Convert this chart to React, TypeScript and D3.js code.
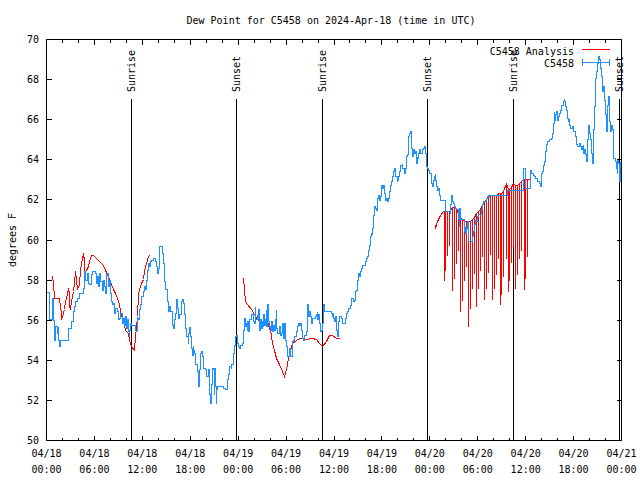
import React from "react";
import * as d3 from "d3";

const TITLE = "Dew Point for C5458 on 2024-Apr-18 (time in UTC)";
const Y_LABEL = "degrees F";
const START = Date.UTC(2024, 3, 18, 0, 0);
const END = Date.UTC(2024, 3, 21, 0, 0);
const Y_DOMAIN: [number, number] = [50, 70];

// [hours since 04/18 00:00 UTC, dew point °F]
const observed: [number, number][] = [
  [0.05,57.37],[0.40,56.01],[0.73,57.06],[0.85,56.0],[0.98,55.26],[1.06,55.01],[1.15,55.68],[1.36,55.35],[1.48,55.68],[1.56,55.0],[1.69,54.68],[1.77,55.0],[2.81,55.6],[3.15,55.93],[3.35,56.43],[3.56,56.68],[3.69,56.93],[3.85,57.1],[4.19,57.34],[4.6,57.59],[4.73,58.42],[4.9,58.0],[5.1,58.34],[5.23,57.84],[5.44,57.76],[5.65,58.26],[5.77,58.42],[6.19,58.34],[6.27,57.84],[6.4,58.17],[6.48,57.67],[6.69,58.34],[6.81,57.92],[6.98,57.5],[7.1,58.0],[7.23,57.67],[7.4,57.34],[7.52,58.26],[7.69,58.34],[7.81,57.67],[7.94,58.0],[8.06,57.34],[8.15,56.93],[8.27,56.76],[8.44,56.84],[8.56,56.34],[8.69,56.59],[8.85,56.43],[8.98,56.01],[9.19,56.09],[9.31,56.34],[9.48,55.84],[9.6,56.09],[9.73,55.76],[9.9,56.18],[10.02,55.6],[10.1,56.01],[10.23,55.43],[10.35,55.18],[10.44,55.51],[10.52,55.84],[10.65,55.76],[11.19,55.51],[11.35,56.09],[11.48,56.01],[11.69,56.51],[11.81,56.76],[11.9,57.17],[12.1,57.42],[12.23,57.67],[12.44,57.51],[12.52,58.0],[12.6,58.5],[12.73,58.84],[12.94,58.67],[13.02,58.92],[13.15,59.0],[13.35,59.09],[13.65,58.92],[13.77,58.67],[13.9,58.34],[13.98,58.59],[14.1,59.0],[14.19,59.67],[14.52,59.34],[14.69,58.84],[14.81,57.92],[14.94,57.51],[15.1,56.93],[15.23,56.43],[15.44,56.68],[15.56,56.43],[15.73,55.76],[15.85,55.6],[15.98,56.01],[16.15,56.34],[16.27,57.01],[16.4,56.59],[16.48,56.09],[16.69,56.26],[16.9,56.93],[17.02,57.01],[17.1,56.84],[17.23,56.26],[17.35,56.01],[17.44,55.6],[17.56,55.18],[17.73,54.85],[17.81,55.35],
  [17.86,55.51],[17.94,55.64],[18.06,55.18],[18.19,54.6],[18.27,54.26],[18.36,54.76],[18.44,54.51],[18.56,54.35],[18.69,53.77],[18.86,53.43],[18.98,52.68],[19.11,53.52],[19.27,54.35],[19.4,54.43],[19.52,54.18],[19.61,53.6],[19.86,53.52],[20.02,53.18],[20.23,53.52],[20.36,53.18],[20.44,52.27],[20.52,51.85],[20.61,52.77],[20.73,53.6],[20.86,53.52],[20.98,52.27],[21.07,53.6],[21.15,52.68],[21.23,51.85],[21.32,52.52],[21.4,52.68],[22.11,52.6],[22.44,52.52],[22.61,53.02],[22.73,53.27],[22.86,53.52],[22.94,53.68],[23.11,53.6],[23.19,53.77],[23.36,54.35],[23.48,54.76],[23.61,55.26],[23.69,55.18],[23.77,55.26],[23.9,54.85],[24.02,54.68],[24.19,54.6],[24.31,54.76],[24.48,54.85],[24.61,55.18],[24.69,55.51],[24.81,56.09],[24.94,55.68],[25.02,55.84],[25.11,55.51],[25.23,55.93],[25.32,55.43],[25.44,56.01],[25.65,56.26],[25.86,55.93],[26.07,55.84],[26.15,56.67],[26.23,56.01],[26.36,56.26],[26.48,56.01],[26.57,56.51],[26.69,55.51],[26.82,56.01],[26.9,55.59],[27.02,55.93],[27.11,55.68],[27.19,56.26],[27.32,55.76],[27.44,56.01],[27.52,56.51],[27.61,55.68],[27.73,56.76],[27.82,55.93],[27.94,55.68],[28.07,55.51],[28.15,55.93],[28.27,55.68],[28.36,55.43],[28.48,55.76],[28.61,55.51],[28.69,56.01],[28.77,56.51],[28.86,55.59],[28.98,55.34],[29.19,55.68],[29.32,55.26],[29.44,55.34],[29.57,55.84],[29.69,55.1],[29.82,55.84],[29.94,55.01],[30.02,54.68],[30.15,54.18],[30.44,54.6],[30.57,54.18],[30.77,54.51],[30.86,54.93],[30.98,55.01],[31.11,55.18],[31.27,55.43],[31.4,55.68],[31.52,55.84],[31.69,55.76],[31.82,55.84],[31.94,55.51],[32.07,55.1],[32.23,55.01],[32.36,55.26],[32.52,55.43],[32.65,56.18],[32.73,56.76],[32.86,56.18],[32.94,56.43],[33.07,56.18],[33.19,55.84],[33.36,56.09],[33.65,56.18],[33.77,56.26],[33.9,56.43],[33.98,56.01],[34.07,56.26],[34.19,55.84],[34.27,55.43],[34.4,55.51],[34.52,55.76],[34.61,55.84],[34.69,56.76],[34.82,56.43],[35.65,56.34],[35.77,56.18],[35.86,56.34],[35.98,56.09],[36.07,55.93],[36.19,56.18],[36.27,55.51],[36.4,55.18],[36.52,55.93],[36.69,56.18],
  [36.9,56.09],[37.02,55.84],[37.44,56.09],[37.52,56.34],[37.73,56.42],[37.86,56.59],[38.02,56.75],[38.15,57.09],[38.48,56.92],[38.61,57.0],[38.69,57.42],[38.77,57.5],[38.9,58.0],[39.02,58.08],[39.11,58.33],[39.19,58.17],[39.32,58.42],[39.48,58.58],[39.61,58.75],[39.94,58.92],[40.11,59.08],[40.23,59.17],[40.36,59.5],[40.44,59.75],[40.57,60.16],[40.65,60.33],[40.77,60.25],[40.86,60.58],[40.94,61.24],[41.07,61.66],[41.19,61.58],[41.27,61.49],[41.4,61.74],[41.48,62.07],[41.61,62.24],[41.69,61.99],[41.77,62.16],[41.9,62.41],[41.98,62.74],[42.11,62.57],[42.23,62.74],[42.36,62.32],[42.44,61.99],[42.61,62.07],[42.73,61.91],[42.86,62.07],[42.94,62.41],[43.07,62.74],[43.19,62.91],[43.36,63.16],[43.44,63.4],[43.57,63.57],[43.65,63.16],[43.9,62.91],[43.98,62.99],[44.07,63.16],[44.19,63.4],[44.32,63.74],[44.52,63.82],[44.61,63.57],[44.82,63.32],[44.94,63.57],[45.02,63.74],[45.11,64.15],[45.23,64.24],[45.36,65.15],[45.44,65.32],[45.57,65.4],[45.65,65.15],[45.73,64.57],[45.86,64.15],[45.98,64.49],[46.07,64.32],[46.19,64.4],[46.27,63.82],[46.4,64.15],[46.48,64.07],[46.61,64.32],[46.69,64.49],
  [46.81,64.32],[47.11,64.49],[47.23,64.57],[47.31,64.65],[47.44,64.32],[47.52,63.91],[47.61,63.66],[47.73,63.57],[47.86,63.49],[48.02,63.33],[48.15,63.08],[48.27,62.83],[48.36,62.66],[48.48,62.99],[48.56,63.16],[48.69,63.33],[48.77,62.99],[48.86,62.66],[48.98,62.49],[49.11,62.58],[49.19,62.24],[49.31,61.99],[49.94,61.58],[50.02,61.41],[50.56,61.33],[50.65,61.75],[50.73,62.24],[50.86,61.91],[50.98,61.83],[51.11,61.66],[51.27,61.58],[51.4,61.5],[51.56,61.0],[51.69,60.67],[51.77,61.58],[51.86,61.0],[52.31,60.42],[52.44,60.67],[52.52,60.33],[52.61,60.58],[52.73,60.91],[52.81,59.92],[53.36,60.17],[53.44,60.42],[53.56,60.75],[53.69,60.91],[53.77,60.99],[53.86,60.91],[53.98,61.16],[54.11,61.25],[54.52,61.5],[54.61,61.75],[54.73,61.91],[55.15,62.08],[55.23,62.16],[55.36,62.24],[57.69,62.49],[59.69,63.57],[59.94,62.58],[60.65,63.49],[60.77,63.33],[60.94,63.24],[61.06,63.16],[61.27,63.08],[61.48,62.91],[61.69,62.83],[61.81,62.66],[61.94,62.91],[62.02,63.33],[62.11,63.41],[62.19,63.74],[62.31,63.91],[62.44,64.16],[62.52,64.41],[62.65,64.74],[62.73,64.9],[62.94,64.99],[63.19,65.07],[63.36,65.32],[63.48,65.82],[63.56,66.4],[63.65,65.98],[63.77,66.24],[63.9,66.4],[64.02,65.98],[64.11,66.15],[64.19,66.32],[64.4,66.48],[64.52,66.73],[64.73,66.9],[64.81,67.07],[64.9,66.9],[65.02,66.65],[65.11,66.48],[65.23,66.07],[65.31,65.9],[65.44,66.07],[65.52,65.73],[65.65,65.57],[65.86,65.65],[65.94,65.4],[66.19,65.24],[66.27,65.15],[66.4,64.74],[66.52,64.65],[66.69,64.82],[66.81,64.65],[66.94,64.49],[67.06,64.65],[67.19,64.74],[67.27,64.32],[67.4,64.49],[67.52,64.24],[67.65,63.91],[67.77,64.99],[67.86,65.73],[68.02,65.32],[68.15,64.99],[68.27,64.32],[68.36,63.82],[68.44,64.32],[68.52,65.49],[68.61,66.65],[68.69,67.48],[68.77,68.06],[68.86,68.4],[68.98,68.81],[69.11,69.14],[69.23,68.98],[69.36,68.56],[69.48,68.15],[69.61,67.4],[69.69,67.65],[69.81,66.98],[69.94,66.65],[70.02,66.24],[70.11,65.4],[70.19,66.24],[70.27,66.73],[70.36,67.15],[70.44,66.4],[70.52,65.9],[70.65,65.4],[70.77,65.73],[70.86,65.49],[70.94,64.99],[71.02,64.07],[71.27,63.91],[71.36,63.57],[71.44,63.33],[71.52,63.99],[71.61,63.82],[71.69,63.33],[71.77,62.91],[71.85,63.9],
];

// analysis, first night/morning
const analysisA: [number, number][] = [
  [0.73,58.17],[0.86,57.84],[0.94,57.09],[1.69,57.09],[1.77,56.68],[1.86,56.34],[1.94,56.01],[2.02,56.18],[2.23,56.51],[2.44,56.93],[2.61,57.26],[2.77,57.59],[2.86,57.26],[2.94,56.68],[3.02,56.59],[3.15,56.93],[3.36,57.42],[3.48,57.84],[3.65,58.42],[3.77,58.01],[3.94,57.51],[4.11,57.76],[4.27,58.5],[4.44,58.84],[4.65,59.34],[4.73,58.92],[4.81,58.34],[5.02,58.5],[5.27,58.67],[5.44,58.92],[5.69,59.25],[5.86,59.25],[6.27,59.09],[6.69,58.92],[7.11,58.75],[7.4,58.5],[7.65,58.26],[7.86,58.01],[8.15,57.76],[8.36,57.51],[8.69,57.34],[8.9,57.09],[9.11,56.76],[9.31,56.43],[9.52,56.09],[9.73,55.76],[9.94,55.51],[10.23,55.35],[10.44,55.01],[10.69,54.68],[10.98,54.51],[11.15,55.18],[11.27,55.6],[11.4,56.18],[11.56,57.26],[11.69,57.51],[11.94,57.84],[12.11,58.01],[12.31,58.5],[12.52,58.84],[12.73,59.17],[12.86,59.25],
];

// analysis, second night/morning
const analysisB: [number, number][] = [
  [24.69,58.09],[24.77,57.51],[24.86,56.92],[25.23,56.76],[25.65,56.51],[26.07,56.26],[26.48,56.01],[26.94,55.84],[27.32,56.01],[27.65,55.93],[27.94,55.59],[28.07,55.51],[28.19,55.26],[28.36,54.85],[28.56,54.51],[28.86,54.1],[29.19,53.77],[29.61,53.43],[29.86,53.18],[30.02,53.52],[30.27,54.1],[30.57,54.51],[30.86,54.85],[31.27,54.98],[31.69,55.1],[32.52,55.05],[33.36,55.1],[33.77,55.05],[34.19,54.85],[34.61,54.68],[35.02,54.93],[35.44,55.26],[35.86,55.26],[36.27,55.1],[36.69,55.1],
];

// analysis, third night: lead-in, then swings [hour, high, low]
const analysisCLead: [number, number][] = [
  [48.69,60.75],[48.77,60.58],[49.0,60.91],[49.3,61.2],[49.7,61.41],
];
const analysisCSwings: [number, number, number][] = [
  [49.81,61.4,58.0],[50.02,61.4,58.5],[50.27,61.4,59.25],[50.52,61.4,59.75],
  [50.86,61.6,57.5],[51.07,61.6,58.1],[51.32,61.5,58.84],[51.56,61.3,59.5],
  [51.9,61.1,56.42],[52.1,61.0,57.0],[52.36,60.9,58.0],[52.6,60.9,58.7],
  [52.86,60.9,55.68],[53.06,60.9,56.6],[53.32,61.0,57.6],[53.56,61.1,58.34],
  [53.9,61.3,56.68],[54.1,61.4,57.6],[54.36,61.5,58.5],[54.6,61.7,59.2],
  [54.9,61.9,57.01],[55.1,62.0,57.6],[55.36,62.1,58.4],[55.6,62.2,59.3],
  [55.86,62.2,57.01],[56.06,62.2,57.6],[56.32,62.2,58.3],[56.56,62.3,59.1],
  [56.82,62.3,56.76],[57.02,62.3,57.3],[57.28,62.4,58.2],[57.56,62.8,59.1],
  [57.82,62.5,57.42],[58.02,62.5,58.0],[58.28,62.6,58.9],[58.52,62.8,59.7],
  [58.77,62.7,57.59],[58.98,62.7,58.3],[59.24,62.8,59.1],[59.48,62.9,59.5],
  [59.81,63.0,57.51],[60.0,63.0,58.1],[60.22,63.0,59.2],
];
const analysisCEnd: [number, number][] = [[60.45, 63.0]];

const sunEvents: { hour: number; label: string }[] = [
  { hour: 10.65, label: "Sunrise" },
  { hour: 23.73, label: "Sunset" },
  { hour: 34.6, label: "Sunrise" },
  { hour: 47.73, label: "Sunset" },
  { hour: 58.48, label: "Sunrise" },
  { hour: 71.69, label: "Sunset" },
];

const SERIES_NAMES = ["C5458 Analysis", "C5458"];
const COLORS = { analysis: "#ff0000", observed: "#1e90ff" };

const FONT = "'DejaVu Sans Mono', 'Liberation Mono', monospace";

export default function App() {
  const W = 640, H = 480;
  const L = 46.5, R = 621.5, T = 39.5, B = 440.5;
  const toDate = (h: number) => new Date(START + h * 3600e3);
  const x = d3.scaleUtc().domain([new Date(START), new Date(END)]).range([L, R]);
  const y = d3.scaleLinear().domain(Y_DOMAIN).range([B, T]);
  const px = (h: number) => Math.round(x(toDate(h)) - 0.5) + 0.5;
  const py = (v: number) => Math.round(y(v) - 0.5) + 0.5;

  const stepLine = d3.line<[number, number]>().x(d => px(d[0])).y(d => py(d[1])).curve(d3.curveStepAfter);
  const line = d3.line<[number, number]>().x(d => px(d[0])).y(d => py(d[1]));

  // each swing: a vertical drop to the low and back up at the same time, then along the top
  const swingPts: [number, number][] = [];
  analysisCLead.forEach(p => swingPts.push(p));
  analysisCSwings.forEach(([h, hi, lo]) => {
    swingPts.push([h, hi]);
    swingPts.push([h, lo]);
    swingPts.push([h, hi]);
  });
  analysisCEnd.forEach(p => swingPts.push(p));

  const majorTicks = x.ticks(d3.utcHour.every(6) as any);
  const minorTicks = x.ticks(d3.utcHour.every(2) as any);
  const yTicks = y.ticks(10);
  const fmtDate = d3.utcFormat("%m/%d");
  const fmtTime = d3.utcFormat("%H:%M");
  const tx = (t: Date) => Math.round(x(t) - 0.5) + 0.5;

  return (
    <svg width={W} height={H} style={{ display: "block", position: "absolute", left: 0, top: 0, background: "#fff" }} fontFamily={FONT} fontSize={10}>
      <rect x={0} y={0} width={W} height={H} fill="#fff" />
      <text x={331} y={24} textAnchor="middle">{TITLE}</text>
      <text transform={`translate(12,240) rotate(-90)`} textAnchor="middle" dominantBaseline="central">{Y_LABEL}</text>

      <g shapeRendering="crispEdges">
        {yTicks.map(v => (
          <g key={"y" + v}>
            <line x1={L} x2={L + 5} y1={py(v)} y2={py(v)} stroke="#000" />
            <line x1={R} x2={R - 5} y1={py(v)} y2={py(v)} stroke="#000" />
          </g>
        ))}
        {minorTicks.map(t => (
          <g key={"m" + +t}>
            <line x1={tx(t)} x2={tx(t)} y1={B} y2={B - 3} stroke="#000" />
            <line x1={tx(t)} x2={tx(t)} y1={T} y2={T + 3} stroke="#000" />
          </g>
        ))}
        {majorTicks.map(t => (
          <g key={"M" + +t}>
            <line x1={tx(t)} x2={tx(t)} y1={B} y2={B - 5} stroke="#000" />
            <line x1={tx(t)} x2={tx(t)} y1={T} y2={T + 5} stroke="#000" />
          </g>
        ))}
        {sunEvents.map((s, i) => (
          <line key={"sl" + i} x1={px(s.hour)} x2={px(s.hour)} y1={99} y2={B} stroke="#000" />
        ))}
      </g>

      {yTicks.map(v => (
        <text key={"yt" + v} x={39} y={y(v)} textAnchor="end" dominantBaseline="central">{v}</text>
      ))}
      {majorTicks.map(t => (
        <g key={"xt" + +t}>
          <text x={x(t)} y={457} textAnchor="middle">{fmtDate(t)}</text>
          <text x={x(t)} y={473} textAnchor="middle">{fmtTime(t)}</text>
        </g>
      ))}
      {sunEvents.map((s, i) => (
        <text key={"st" + i} transform={`translate(${px(s.hour)},92) rotate(-90)`} dominantBaseline="central">{s.label}</text>
      ))}

      {/* data */}
      <g shapeRendering="crispEdges" fill="none" strokeWidth={1}>
        <path d={line(analysisA) || ""} stroke={COLORS.analysis} />
        <path d={line(analysisB) || ""} stroke={COLORS.analysis} />
        <path d={line(swingPts) || ""} stroke={COLORS.analysis} />
        <path d={stepLine(observed) || ""} stroke={COLORS.observed} />
      </g>

      {/* legend */}
      <text x={574} y={51} textAnchor="end" dominantBaseline="central">{SERIES_NAMES[0]}</text>
      <text x={574} y={63} textAnchor="end" dominantBaseline="central">{SERIES_NAMES[1]}</text>
      <g shapeRendering="crispEdges">
        <line x1={582} x2={610} y1={49.5} y2={49.5} stroke={COLORS.analysis} />
        <line x1={582} x2={610} y1={62.5} y2={62.5} stroke={COLORS.observed} />
        <line x1={582.5} x2={582.5} y1={59} y2={66} stroke={COLORS.observed} />
        <line x1={609.5} x2={609.5} y1={59} y2={66} stroke={COLORS.observed} />
        <rect x={L} y={T} width={R - L} height={B - T} fill="none" stroke="#000" />
      </g>
    </svg>
  );
}
